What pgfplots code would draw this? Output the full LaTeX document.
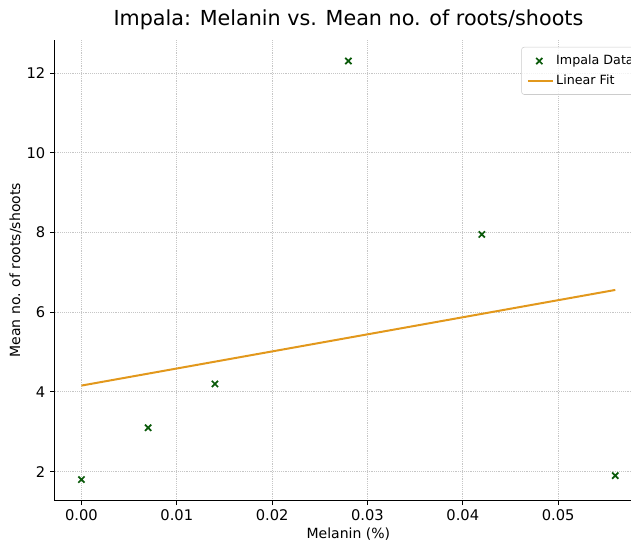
\documentclass[border=0pt]{standalone}
\usepackage{pgfplots}
\pgfplotsset{compat=1.18}
\usepackage{fontspec}
\setmainfont{DejaVu Sans}
\definecolor{fitc}{RGB}{226,152,28}
\definecolor{ptc}{RGB}{10,90,10}
\pgfplotsset{
  linelegend/.style={legend image code/.code={\draw[##1] (0cm,0cm) -- (0.65cm,0cm);}},
  marklegend/.style={legend image code/.code={\draw[##1] plot coordinates {(0.3cm,0cm)};}},
}
\begin{document}
\begin{tikzpicture}
\begin{axis}[
  scale only axis,
  width=440pt, height=345pt,
  xmin=-0.0028, xmax=0.0588,
  ymin=1.275, ymax=12.825,
  axis x line*=bottom, axis y line*=left,
  axis line style={-, line width=0.8pt},
  xtick={0,0.01,0.02,0.03,0.04,0.05},
  xticklabels={0.00,0.01,0.02,0.03,0.04,0.05},
  scaled x ticks=false,
  ytick={2,4,6,8,10,12},
  tick align=outside,
  major tick length=3.5pt,
  tick style={black, line width=0.6pt},
  /pgf/number format/assume math mode=true,
  ticklabel style={font=\fontsize{11pt}{13pt}\selectfont},
  xmajorgrids, ymajorgrids,
  major grid style={densely dotted, gray!45, line width=0.6pt},
  title={Impala: Melanin vs. Mean no. of roots/shoots},
  title style={font=\fontsize{15.5pt}{18pt}\selectfont, yshift=-2pt},
  xlabel={Melanin (\%)},
  ylabel={Mean no. of roots/shoots},
  label style={font=\fontsize{10.5pt}{12pt}\selectfont},
  xlabel style={yshift=2pt},
  ylabel style={yshift=-3pt},
  legend style={at={(rel axis cs:1.0,0.985)}, anchor=north east,
    font=\fontsize{9.5pt}{11pt}\selectfont, draw=gray!40, rounded corners=2pt,
    fill=white, fill opacity=0.8, text opacity=1, row sep=2pt, inner sep=4pt},
  legend cell align=left,
  clip=false,
]
\addplot[only marks, mark=x, mark size=3.3pt, mark options={ptc, line width=1.3pt}, marklegend]
  coordinates {(0,1.8) (0.007,3.1) (0.014,4.2) (0.028,12.3) (0.042,7.95) (0.056,1.9)};
\addlegendentry{Impala Data}
\addplot[fitc, line width=1.5pt, linelegend] coordinates {(0,4.158) (0.056,6.557)};
\addlegendentry{Linear Fit}
\coordinate (sw) at (rel axis cs:0,0);
\coordinate (ne) at (rel axis cs:1,1);
\end{axis}
\pgfresetboundingbox
\path ([shift={(-41pt,-31.5pt)}]sw) rectangle ([shift={(-8.25pt,30pt)}]ne);
\end{tikzpicture}
\end{document}
